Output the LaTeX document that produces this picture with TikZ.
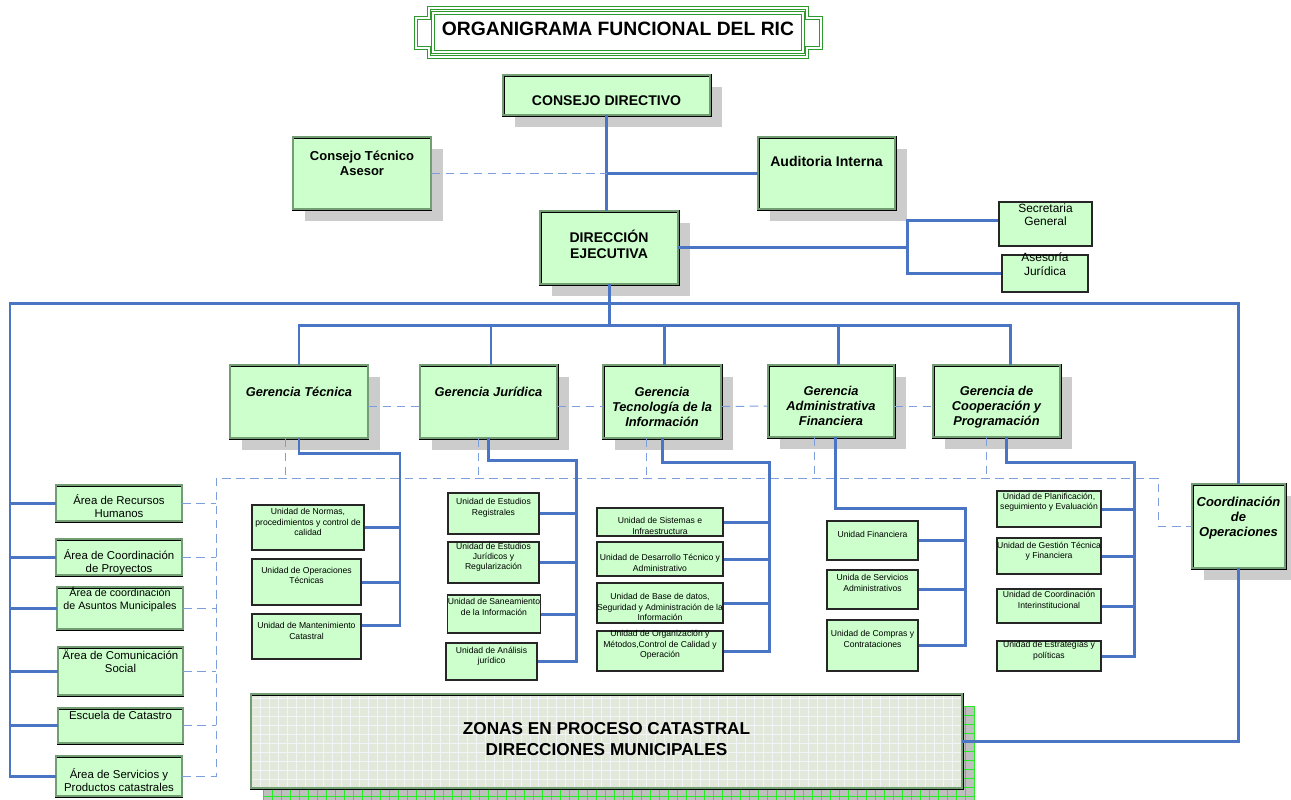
\documentclass[tikz,border=0pt]{standalone}
\usepackage{fontspec}
\setmainfont{Liberation Sans}
\usetikzlibrary{calc,positioning,shadows}
\definecolor{lnblue}{HTML}{4A74C4}
\definecolor{dsblue}{HTML}{7C9EDB}
\definecolor{bxgreen}{HTML}{CCFFCC}
\definecolor{frgreen}{HTML}{2E9A2E}
\definecolor{zofill}{HTML}{E3E9DA}
\definecolor{zogrid}{HTML}{F1F4F8}
\definecolor{shgreen}{HTML}{22EE22}
\newlength{\pxu}\setlength{\pxu}{0.02cm}
\newcommand{\tx}[2]{\raisebox{\dimexpr#1\pxu-.25em\relax}[0pt][0pt]{\begin{tabular}{@{}c@{}}#2\end{tabular}}}

\begin{document}
\begin{tikzpicture}[x=0.02cm, y=-0.02cm,
    sz/.style 2 args={minimum width=#1*0.02cm, minimum height=#2*0.02cm},
    dbl/.style={draw=black, line width=0.5pt, double=green!30!black!55, double distance=0.7pt, fill=bxgreen, inner sep=0pt},
    gbox/.style={dbl, general shadow={fill=black!20, shadow xshift=0.24cm, shadow yshift=-0.24cm}},
    abox/.style={dbl, font=\fontsize{6.5}{7.5}\selectfont},
    ubox/.style={draw=black!85, line width=0.6pt, fill=bxgreen, inner sep=0pt, font=\fontsize{4.9}{5.9}\selectfont},
    gerb/.style={gbox, font=\bfseries\itshape\fontsize{7.3}{8.6}\selectfont},
    tfr/.style={draw=frgreen, line width=0.5pt, double=white, double distance=0.9pt},
    lnk/.style={draw=lnblue, line width=1.7pt},
    aux/.style={draw=dsblue, line width=0.55pt, dash pattern=on 5pt off 3pt},
    zgridw/.style={draw=zogrid, line width=0.5pt},
    zgrids/.style={draw=shgreen, line width=0.5pt}
]
\useasboundingbox (0,0) rectangle (1291,799);

\fill[black!25] (263,706) rectangle (975,800);
\begin{scope}
\clip (263,706) rectangle (975,800);
\foreach \x in {263,272,...,975} \draw[zgrids] (\x,706) -- (\x,800);
\foreach \y in {706,715,...,800} \draw[zgrids] (263,\y) -- (975,\y);
\end{scope}

\node[tfr, fill=white, sz={370}{39}, inner sep=0pt, font=\bfseries\fontsize{11}{13}\selectfont] (title) at (618,32.5) {\tx{1.5}{ORGANIGRAMA FUNCIONAL DEL RIC}};
\draw[tfr] (429,8) -- (807,8) -- (807,18) -- (821,18) -- (821,48) -- (807,48) -- (807,57) -- (429,57) -- (429,48) -- (416,48) -- (416,18) -- (429,18) -- cycle;

\node[gbox, sz={207}{40}, font=\bfseries\fontsize{8}{9}\selectfont] (cd) at (606.5,95) {\tx{-7.5}{CONSEJO DIRECTIVO}};
\node[gbox, sz={138}{72}, font=\bfseries\fontsize{7.4}{8.6}\selectfont] (cta) at (362,173) {\tx{8.5}{Consejo Técnico\\Asesor}};
\node[gbox, sz={137}{72}, font=\bfseries\fontsize{8}{9}\selectfont] (au) at (826.5,173) {\tx{10}{Auditoria Interna}};
\node[gbox, sz={138}{73}, font=\bfseries\fontsize{8}{9}\selectfont] (de) at (609,247.5) {\tx{1}{DIRECCIÓN\\EJECUTIVA}};
\node[ubox, sz={93}{44}, font=\fontsize{6.8}{7.5}\selectfont] (sg) at (1045.5,224) {\tx{7.5}{Secretaria\\General}};
\node[ubox, sz={86}{37}, font=\fontsize{6.8}{7.5}\selectfont] (aj) at (1045,273.5) {\tx{7.5}{Asesoría\\Jurídica}};

\node[gerb, sz={138}{73}] (gt) at (299,401.5) {\tx{8.5}{Gerencia Técnica}};
\node[gerb, sz={137}{73}] (gj) at (488.5,401.5) {\tx{8.5}{Gerencia Jurídica}};
\node[gerb, sz={118}{73}] (gti) at (662,401.5) {\tx{-6.5}{Gerencia\\Tecnología de la\\Información}};
\node[gerb, sz={126}{72}] (ga) at (831,401) {\tx{-6}{Gerencia\\Administrativa\\Financiera}};
\node[gerb, sz={127}{72}] (gc) at (996.5,401) {\tx{-6}{Gerencia de\\Cooperación y\\Programación}};
\node[gbox, sz={93}{84}, font=\bfseries\itshape\fontsize{7.4}{8.6}\selectfont] (co) at (1238.5,526) {\tx{8}{Coordinación\\de\\Operaciones}};

\node[abox, sz={126}{36}] (a1) at (119,503) {\tx{-5}{Área de Recursos\\Humanos}};
\node[abox, sz={126}{36}] (a2) at (119,557) {\tx{-6}{Área de Coordinación\\de Proyectos}};
\node[abox, sz={126}{42}, font=\fontsize{6.1}{7.5}\selectfont] (a3) at (120,608) {\tx{7.5}{Área de coordinación\\de Asuntos Municipales}};
\node[abox, sz={125}{48}] (a4) at (120.5,671) {\tx{8}{Ärea de Comunicación\\Social}};
\node[abox, sz={125}{35}] (a5) at (120.5,725.5) {\tx{8.5}{Escuela de Catastro}};
\node[abox, sz={126}{40}] (a6) at (119,776) {\tx{-5.5}{Área de Servicios y\\Productos catastrales}};

\node[ubox, sz={112}{45}] (t1) at (308,527.5) {\tx{4.5}{Unidad de Normas,\\procedimientos y control de\\calidad}};
\node[ubox, sz={109}{46}] (t2) at (306.5,582) {\tx{5.5}{Unidad de Operaciones\\Técnicas}};
\node[ubox, sz={109}{45}] (t3) at (306.5,636.5) {\tx{4.5}{Unidad de Mantenimiento\\Catastral}};
\node[ubox, sz={91}{41}] (j1) at (493.5,513.5) {\tx{5.5}{Unidad de Estudios\\Registrales}};
\node[ubox, sz={91}{41}] (j2) at (493.5,562.5) {\tx{5}{Unidad de Estudios\\Jurídicos y\\Regularización}};
\node[ubox, sz={92}{38}] (j3) at (494,614) {\tx{6}{Unidad de Saneamiento\\de la Información}};
\node[ubox, sz={91}{37}] (j4) at (491.5,661.5) {\tx{5}{Unidad de Análisis\\jurídico}};
\node[ubox, sz={126}{28}] (i1) at (660,522) {\tx{-5}{Unidad de Sistemas e\\Infraestructura}};
\node[ubox, sz={126}{34}] (i2) at (660,559) {\tx{-5}{Unidad de Desarrollo Técnico y\\Administrativo}};
\node[ubox, sz={126}{40}] (i3) at (660,603) {\tx{-5}{Unidad de Base de datos,\\Seguridad y Administración de la\\Información}};
\node[ubox, sz={126}{40}] (i4) at (660,651) {\tx{6}{Unidad de Organización y\\Métodos,Control de Calidad y\\Operación}};
\node[ubox, sz={91}{39}] (f1) at (872.5,540.5) {\tx{5.5}{Unidad Financiera}};
\node[ubox, sz={91}{39}] (f2) at (872.5,589.5) {\tx{5.5}{Unida de Servicios\\Administrativos}};
\node[ubox, sz={91}{51}] (f3) at (872.5,645.5) {\tx{5.5}{Unidad de Compras y\\Contrataciones}};
\node[ubox, sz={104}{36}] (c1) at (1049,509) {\tx{6.5}{Unidad de Planificación,\\seguimiento y Evaluación}};
\node[ubox, sz={104}{36}] (c2) at (1049,556) {\tx{4.5}{Unidad de Gestión Técnica\\y Financiera}};
\node[ubox, sz={104}{34}] (c3) at (1049,606) {\tx{5}{Unidad de Coordinación\\Interinstitucional}};
\node[ubox, sz={104}{30}] (c4) at (1049,656) {\tx{5}{Unidad de Estrategías y\\políticas}};

\node[dbl, sz={711}{94}, fill=zofill, font=\bfseries\fontsize{9.8}{11.8}\selectfont,
      path picture={
        \foreach \k in {1,...,79} \draw[zgridw] ([xshift=\k*0.18cm]path picture bounding box.south west) -- ([xshift=\k*0.18cm]path picture bounding box.north west);
        \foreach \k in {1,...,10} \draw[zgridw] ([yshift=\k*0.18cm]path picture bounding box.south west) -- ([yshift=\k*0.18cm]path picture bounding box.south east);
      }] (zo) at (606.5,741) {\tx{0}{ZONAS EN PROCESO CATASTRAL\\DIRECCIONES MUNICIPALES}};

\draw[lnk] (cd.south) -- (cd.south |- de.north);
\draw[lnk] (cd.south |- au.west) -- (au.west);
\draw[aux] (cta.east) -- (cd.south |- cta.east);
\coordinate (sj) at (907,247.5);
\draw[lnk] (de.east) -- (sj);
\draw[lnk] ([yshift=0.08cm]sg.west) -| (sj) |- (aj.west);

\coordinate (busL) at (10,303);
\coordinate (gbus) at (609,325);
\draw[lnk] (co.north) |- (busL) -- (busL |- a6.west) -- (a6.west);
\foreach \a in {a1,a2,a3,a4,a5} \draw[lnk] (\a.west) -- (\a.west -| busL);
\draw[lnk] (de.south) -- (gbus);
\path ([xshift=0.27cm]gc.north) coordinate (gcn);
\draw[lnk] (gt.north) |- (gbus) -| (gcn);
\foreach \g/\s in {gj/0.05cm, gti/0.04cm, ga/0.14cm} {
  \path ([xshift=\s]\g.north) coordinate (q);
  \draw[lnk] (q) -- (q |- gbus);
}
\foreach \p/\q in {gt/gj, gj/gti, gti/ga, ga/gc} \draw[aux] ([yshift=-0.1cm]\p.east) -- ([yshift=-0.1cm]\q.west);

\coordinate (dL) at (216,478);
\coordinate (dR) at (1158,478);
\draw[aux] (a6.east) -| (dL) -- (dR) |- (co.west);
\foreach \a in {a1,a2,a3,a4,a5} \draw[aux] (\a.east) -- (\a.east -| dL);
\foreach \g/\s in {gt/-0.28cm, gj/-0.21cm, gti/-0.32cm, ga/-0.34cm, gc/-0.21cm} {
  \path ([xshift=\s]\g.south) coordinate (q);
  \draw[aux] (q) -- (q |- dL);
}

\coordinate (tb) at (400,453);
\path ([yshift=0.22cm]t3.east) coordinate (t3e);
\draw[lnk] (gt.south) |- (tb) -- (tb |- t3e) -- (t3e);
\foreach \u in {t1,t2} \draw[lnk] (\u.east) -- (\u.east -| tb);
\coordinate (jb) at (576,460);
\draw[lnk] (gj.south) |- (jb) -- (jb |- j4.east) -- (j4.east);
\foreach \u in {j1,j2,j3} \draw[lnk] (\u.east) -- (\u.east -| jb);
\coordinate (ib) at (769,462);
\draw[lnk] (gti.south) |- (ib) -- (ib |- i4.east) -- (i4.east);
\foreach \u in {i1,i2,i3} \draw[lnk] (\u.east) -- (\u.east -| ib);
\coordinate (fb) at (965,508);
\draw[lnk] ([xshift=0.08cm]ga.south) |- (fb) -- (fb |- f3.east) -- (f3.east);
\foreach \u in {f1,f2} \draw[lnk] (\u.east) -- (\u.east -| fb);
\coordinate (cb) at (1134,462);
\draw[lnk] ([xshift=0.2cm]gc.south) |- (cb) -- (cb |- c4.east) -- (c4.east);
\foreach \u in {c1,c2,c3} \draw[lnk] (\u.east) -- (\u.east -| cb);

\draw[lnk] (co.south) |- (zo.east);
\end{tikzpicture}
\end{document}
